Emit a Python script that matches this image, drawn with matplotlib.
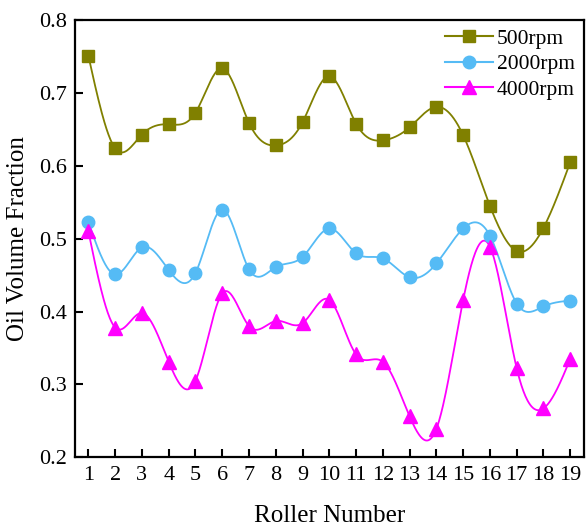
import numpy as np
import matplotlib
matplotlib.use("Agg")
import matplotlib.pyplot as plt

# Data
rollers = np.arange(1, 20)
oil_500 = [0.751, 0.624, 0.643, 0.657, 0.673, 0.734, 0.659, 0.628, 0.660, 0.723,
           0.658, 0.635, 0.653, 0.681, 0.642, 0.545, 0.483, 0.515, 0.605]
oil_2000 = [0.523, 0.451, 0.488, 0.457, 0.453, 0.540, 0.458, 0.461, 0.475, 0.514,
            0.480, 0.473, 0.447, 0.466, 0.514, 0.504, 0.411, 0.407, 0.415]
oil_4000 = [0.510, 0.378, 0.398, 0.331, 0.305, 0.425, 0.380, 0.387, 0.384, 0.416,
            0.341, 0.331, 0.256, 0.239, 0.416, 0.489, 0.322, 0.267, 0.335]


def natural_spline(x, y, n=40):
    """Natural cubic spline through (x, y), sampled n points per interval."""
    x = np.asarray(x, float)
    y = np.asarray(y, float)
    m = len(x)
    h = np.diff(x)
    A = np.zeros((m, m))
    r = np.zeros(m)
    A[0, 0] = 1.0
    A[-1, -1] = 1.0
    for i in range(1, m - 1):
        A[i, i - 1] = h[i - 1]
        A[i, i] = 2 * (h[i - 1] + h[i])
        A[i, i + 1] = h[i]
        r[i] = 6 * ((y[i + 1] - y[i]) / h[i] - (y[i] - y[i - 1]) / h[i - 1])
    M = np.linalg.solve(A, r)
    xs, ys = [], []
    for i in range(m - 1):
        t = np.linspace(x[i], x[i + 1], n, endpoint=(i == m - 2))
        a = (x[i + 1] - t) / h[i]
        b = (t - x[i]) / h[i]
        s = (a * y[i] + b * y[i + 1]
             + ((a ** 3 - a) * M[i] + (b ** 3 - b) * M[i + 1]) * h[i] ** 2 / 6)
        xs.append(t)
        ys.append(s)
    return np.concatenate(xs), np.concatenate(ys)


plt.rcParams['font.family'] = ['Liberation Serif', 'DejaVu Serif']

fig = plt.figure(figsize=(5.86, 5.31), dpi=100)
ax = fig.add_axes([0.128, 0.139, 0.868, 0.823])

series = [(oil_500, '#808000', 's', 8.5, "500rpm"),
          (oil_2000, '#55BBF5', 'o', 9, "2000rpm"),
          (oil_4000, '#FF00FF', '^', 10, "4000rpm")]

for vals, color, marker, ms, label in series:
    xs, ys = natural_spline(rollers, vals)
    ax.plot(xs, ys, '-', color=color, linewidth=1.3, zorder=2)
    ax.plot(rollers, vals, linestyle='none', marker=marker, color=color,
            markersize=ms, zorder=3)
    ax.plot([], [], '-', color=color, marker=marker, markersize=ms,
            linewidth=1.5, label=label)

ax.set_xlim(0.5, 19.5)
ax.set_ylim(0.2, 0.8)
ax.set_xticks(rollers)
ax.set_yticks([0.2, 0.3, 0.4, 0.5, 0.6, 0.7, 0.8])
ax.set_yticklabels(["0.2", "0.3", "0.4", "0.5", "0.6", "0.7", "0.8"])
ax.tick_params(direction='in', length=6, width=1.5, labelsize=16, pad=6)
for sp in ax.spines.values():
    sp.set_linewidth(1.6)

ax.set_xlabel("Roller Number", fontsize=18, labelpad=15)
ax.set_ylabel("Oil Volume Fraction", fontsize=18, labelpad=7)

ax.legend(loc='upper right', frameon=False, fontsize=15.5, handlelength=2.2,
          handletextpad=0.2, labelspacing=0.25, borderaxespad=0.0)

fig.savefig("out.png", dpi=100)
